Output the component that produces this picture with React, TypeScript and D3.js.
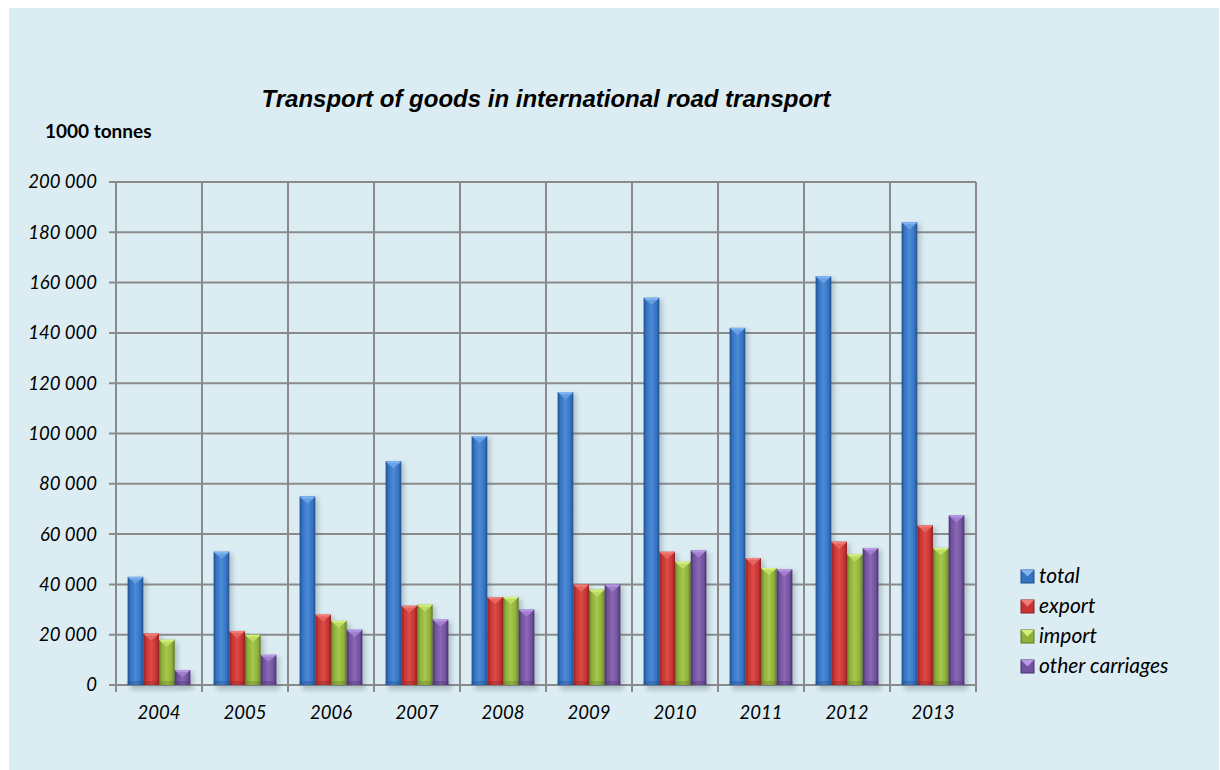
import * as d3 from "d3";

const YEARS = ["2004", "2005", "2006", "2007", "2008", "2009", "2010", "2011", "2012", "2013"];
const TOTAL = [43000, 53000, 75000, 89000, 99000, 116500, 154000, 142000, 162500, 184000];
const EXPORT = [20500, 21500, 28000, 31500, 35000, 40000, 53000, 50500, 57000, 63500];
const IMPORT = [18000, 20000, 25500, 32000, 35000, 38000, 49000, 46500, 52000, 54500];
const OTHER = [6000, 12000, 22000, 26000, 30000, 40000, 53500, 46000, 54500, 67500];
const SERIES_NAMES = ["total", "export", "import", "other carriages"];
const Y_TICKS = [0, 20000, 40000, 60000, 80000, 100000, 120000, 140000, 160000, 180000, 200000];

const WIDTH = 1220;
const HEIGHT = 770;
const PLOT = { left: 116, right: 976, top: 182, bottom: 685 };

// dark edge, main, highlight, top bevel
const PALETTE = [
  { dark: "#1f4f8f", main: "#3572c0", light: "#4d8ad6", bevel: "#7fb6f0" },
  { dark: "#8e2220", main: "#c43533", light: "#de4a46", bevel: "#f07d79" },
  { dark: "#5f7a22", main: "#8fb03a", light: "#a7c84c", bevel: "#d4f07a" },
  { dark: "#4a3070", main: "#72519d", light: "#8a68b6", bevel: "#b996e6" },
];

const fmt = (v: number) => d3.format(",")(v).replace(/,/g, " ");

export default function App() {
  const series = [TOTAL, EXPORT, IMPORT, OTHER];

  const x = d3.scaleBand<string>().domain(YEARS).range([PLOT.left, PLOT.right]).paddingInner(0).paddingOuter(0);
  const y = d3.scaleLinear().domain([0, 200000]).range([PLOT.bottom, PLOT.top]);
  const inner = d3
    .scaleBand<number>()
    .domain(d3.range(series.length))
    .range([0, x.bandwidth()])
    .paddingInner(0)
    .paddingOuter(0.74);

  const bw = inner.bandwidth();
  const grid = "#8a8a8a";

  return (
    <div style={{ position: "absolute", left: 0, top: 0 }}>
      <svg width={WIDTH} height={HEIGHT} style={{ display: "block" }}>
        <defs>
          {PALETTE.map((p, i) => (
            <linearGradient key={i} id={`bar${i}`} x1="0" x2="1" y1="0" y2="0">
              <stop offset="0" stopColor={p.dark} />
              <stop offset="0.18" stopColor={p.main} />
              <stop offset="0.5" stopColor={p.light} />
              <stop offset="0.82" stopColor={p.main} />
              <stop offset="1" stopColor={p.dark} />
            </linearGradient>
          ))}
          <filter id="shadow" x="-50%" y="-10%" width="200%" height="120%">
            <feGaussianBlur stdDeviation="2.5" />
          </filter>
        </defs>

        <rect x={0} y={0} width={WIDTH} height={HEIGHT} fill="#ffffff" />
        <rect x={9} y={8} width={1210} height={762} fill="#dbedf3" />

        <text
          x={546}
          y={107}
          textAnchor="middle"
          fontFamily="'Liberation Sans', Arial, sans-serif"
          fontStyle="italic"
          fontWeight={700}
          fontSize={24}
          fill="#000"
        >
          Transport of goods in international road transport
        </text>
        <text x={45} y={138} fontFamily="Lato, sans-serif" fontWeight={700} fontSize={19} fill="#000">
          1000 tonnes
        </text>

        {/* horizontal grid + left ticks */}
        {Y_TICKS.map((t) => (
          <g key={t}>
            <line x1={PLOT.left - 7} x2={PLOT.right} y1={y(t)} y2={y(t)} stroke={grid} strokeWidth={2} />
            <text
              x={97}
              y={y(t)}
              dy="0.35em"
              textAnchor="end"
              fontFamily="Lato, sans-serif"
              fontStyle="italic"
              fontSize={18.5}
              fill="#000"
            >
              {fmt(t)}
            </text>
          </g>
        ))}

        {/* vertical grid at category boundaries */}
        {[...YEARS.map((yr) => x(yr) as number), PLOT.right].map((vx, i) => (
          <line key={i} x1={vx} x2={vx} y1={PLOT.top} y2={PLOT.bottom + 7} stroke={grid} strokeWidth={2} />
        ))}

        {/* bar shadows */}
        {YEARS.map((yr, ci) => (
          <g key={yr}>
            {series.map((vals, si) => {
              const bx = (x(yr) as number) + (inner(si) as number);
              return (
                <rect
                  key={si}
                  x={bx + 3}
                  y={y(vals[ci]) + 2}
                  width={bw}
                  height={PLOT.bottom - y(vals[ci]) + 3}
                  fill="#5a6a72"
                  opacity={0.35}
                  filter="url(#shadow)"
                />
              );
            })}
          </g>
        ))}

        {/* bars */}
        {YEARS.map((yr, ci) => (
          <g key={yr}>
            {series.map((vals, si) => {
              const p = PALETTE[si];
              const bx = (x(yr) as number) + (inner(si) as number);
              const by = y(vals[ci]);
              const bh = PLOT.bottom - by;
              return (
                <g key={si}>
                  <rect x={bx} y={by} width={bw} height={bh} fill={`url(#bar${si})`} />
                  <polygon
                    points={`${bx},${by} ${bx + bw},${by} ${bx + bw - 2},${by + 2} ${bx + bw / 2},${by + 7} ${bx + 2},${by + 2}`}
                    fill={p.bevel}
                  />
                  <polygon
                    points={`${bx + 2},${by + 2} ${bx + bw / 2},${by + 7} ${bx + bw - 2},${by + 2}`}
                    fill={p.light}
                    opacity={0.5}
                  />
                  <rect x={bx} y={PLOT.bottom - 4} width={bw} height={4} fill={p.dark} opacity={0.35} />
                </g>
              );
            })}
          </g>
        ))}

        {/* x labels */}
        {YEARS.map((yr) => (
          <text
            key={yr}
            x={(x(yr) as number) + x.bandwidth() / 2}
            y={719}
            textAnchor="middle"
            fontFamily="Lato, sans-serif"
            fontStyle="italic"
            fontSize={18.5}
            fill="#000"
          >
            {yr}
          </text>
        ))}

        {/* legend */}
        {SERIES_NAMES.map((name, i) => {
          const ly = 576 + i * 30;
          const p = PALETTE[i];
          return (
            <g key={name}>
              <rect x={1021} y={ly - 6} width={13} height={13} fill={p.main} stroke={p.dark} strokeWidth={1} />
              <polygon
                points={`${1021},${ly - 6} ${1034},${ly - 6} ${1027.5},${ly + 0.5}`}
                fill={p.bevel}
              />
              <text
                x={1039}
                y={ly}
                dy="0.35em"
                fontFamily="Lato, sans-serif"
                fontStyle="italic"
                fontSize={21}
                fill="#000"
              >
                {name}
              </text>
            </g>
          );
        })}
      </svg>
    </div>
  );
}
